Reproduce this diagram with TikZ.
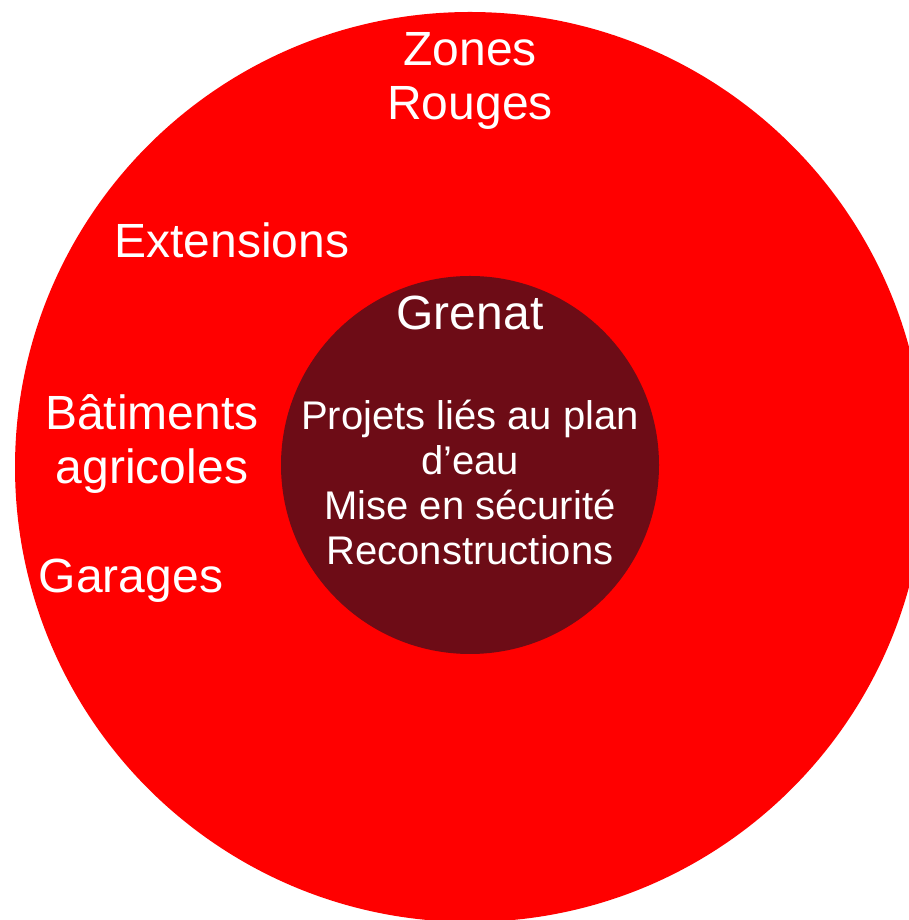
\documentclass[tikz,border=0pt]{standalone}
\usepackage{fontspec}
\setmainfont{Liberation Sans}
\definecolor{zonered}{HTML}{FF0000}
\definecolor{grenat}{HTML}{6D0C16}
\begin{document}
\begin{tikzpicture}[x=1pt,y=1pt,
  bigtext/.style={text=white,font=\fontsize{48}{54}\selectfont,align=center,inner sep=0pt},
  smalltext/.style={text=white,font=\fontsize{40}{45}\selectfont,align=center,inner sep=0pt}]
\useasboundingbox (0,0) rectangle (909,920);
\clip (0,0) rectangle (909,920);
\fill[white] (0,0) rectangle (909,920);
\node[circle,fill=zonered,minimum size=910pt,inner sep=0pt] (outer) at (470,453) {};
\node[circle,fill=grenat,minimum size=378pt,inner sep=0pt] (inner) at (470,455) {};
\node[bigtext] (zones) at (470,839) {Zones\\Rouges};
\node[bigtext] (ext) at (232,680) {Extensions};
\node[bigtext] (bat) at (152,476) {Bâtiments\\agricoles};
\node[bigtext] (gar) at (131,339) {Garages};
\node[bigtext] (gren) at (470,607) {Grenat};
\node[smalltext] (proj) at (470,438) {Projets liés au plan\\d’eau\\Mise en sécurité\\Reconstructions};
\end{tikzpicture}
\end{document}
